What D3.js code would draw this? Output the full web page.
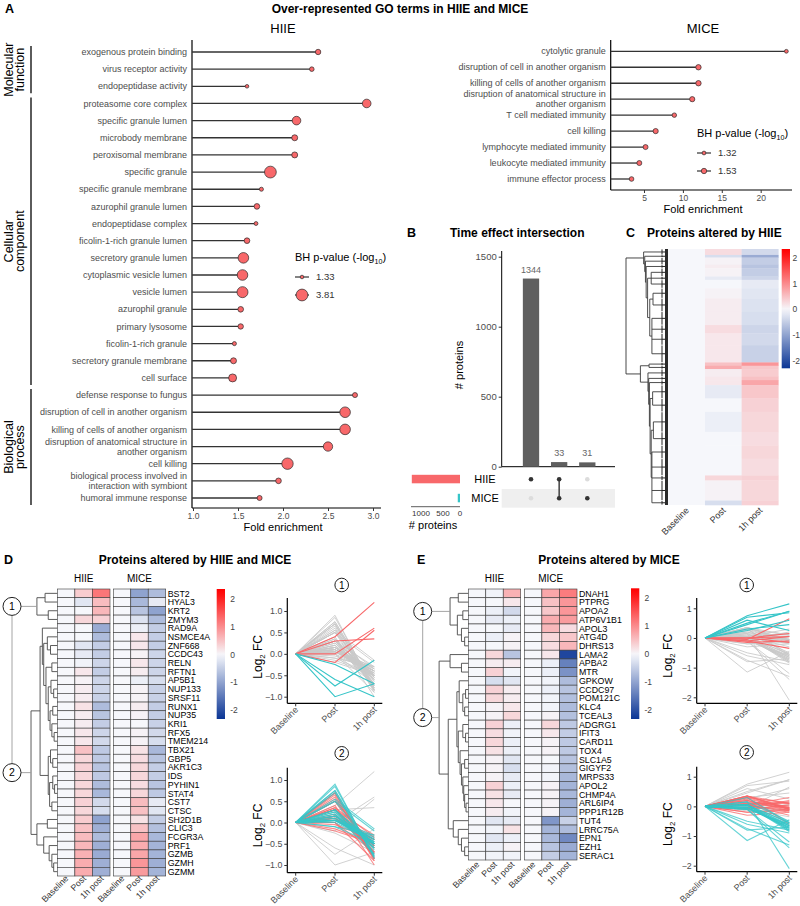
<!DOCTYPE html>
<html><head><meta charset="utf-8">
<script src="https://cdn.jsdelivr.net/npm/d3@7"></script>
<style>body{margin:0;background:#fff} svg{font-family:"Liberation Sans",Arial,Helvetica,sans-serif}</style>
</head><body><svg id="c" width="800" height="906"></svg>
<script>
// ================= DATA =================
const timeLabels = ["Baseline","Post","1h post"];

// Panel A – HIIE
const hiieTerms = ["exogenous protein binding","virus receptor activity","endopeptidase activity","proteasome core complex","specific granule lumen","microbody membrane","peroxisomal membrane","specific granule","specific granule membrane","azurophil granule lumen","endopeptidase complex","ficolin-1-rich granule lumen","secretory granule lumen","cytoplasmic vesicle lumen","vesicle lumen","azurophil granule","primary lysosome","ficolin-1-rich granule","secretory granule membrane","cell surface","defense response to fungus","disruption of cell in another organism","killing of cells of another organism","disruption of anatomical structure in\nanother organism","cell killing","biological process involved in\ninteraction with symbiont","humoral immune response"];
const hiieFold = [2.39,2.32,1.60,2.93,2.15,2.13,2.13,1.86,1.76,1.71,1.70,1.60,1.56,1.55,1.55,1.53,1.53,1.46,1.45,1.44,2.80,2.69,2.69,2.50,2.05,1.95,1.74];
const hiieP = [1.65,1.49,1.33,2.53,2.53,1.78,1.78,3.81,1.40,1.70,1.37,1.70,3.28,3.28,3.45,1.70,1.65,1.40,1.78,2.33,1.57,3.28,3.28,2.79,3.63,1.70,1.57];
const hiieGroupNames = [["Molecular","function"],["Cellular","component"],["Biological","process"]];
const hiieGroupFirst = [0,3,20];
const hiieGroupLast = [2,19,26];
const hiieSizeLegend = [1.33,3.81];
const hiieTicks = [1.0,1.5,2.0,2.5,3.0];

// Panel A – MICE
const miceTerms = ["cytolytic granule","disruption of cell in another organism","killing of cells of another organism","disruption of anatomical structure in\nanother organism","T cell mediated immunity","cell killing","lymphocyte mediated immunity","leukocyte mediated immunity","immune effector process"];
const miceFold = [23.3,12.0,12.0,11.2,8.9,6.5,5.2,4.4,3.4];
const miceP = [1.32,1.53,1.53,1.50,1.40,1.50,1.47,1.47,1.42];
const miceSizeLegend = [1.32,1.53];
const miceTicks = [5,10,15,20];

// Panel B – upset
const upsetSets = ["HIIE","MICE"];
const upsetCounts = [1344,33,31];
const upsetHiie = [1,1,0];
const upsetMice = [0,1,1];
const setSizes = [1377,64];
const upsetTicks = [0,500,1000,1500];
const setSizeTicks = [1000,500,0];

// Panel C – row bands of the HIIE heatmap (rows per band, Post value, 1h post value)
const cBandRows = [32,14,39,18,45,18,45,54,72,72,45,63,93,18,18,41,18,27,72,72,108,72,72,90,27,108,24];
const cBandPost = [0.25,-0.30,0.05,0.10,0.05,-0.15,0.00,0.05,0.10,0.10,0.25,0.15,0.15,0.50,0.70,0.10,0.15,0.15,-0.15,0.00,-0.10,0.00,0.00,0.00,0.30,0.05,-0.30];
const cBandH1 = [-0.35,-0.90,-0.50,-0.60,-0.50,-0.40,-0.15,-0.20,-0.25,-0.30,-0.40,-0.35,-0.45,0.90,0.45,0.40,0.50,0.75,0.45,0.35,0.30,0.25,0.30,0.25,0.35,0.30,0.35];
const cTree = {h:1,c:[
  {h:0.51,c:[0,{h:0.48,c:[1,{h:0.46,c:[2,{h:0.44,c:[3,{h:0.40,c:[{h:0.30,c:[4,5,6]},{h:0.34,c:[{h:0.25,c:[7,8]},{h:0.28,c:[9,10,11,12]}]}]}]}]}]}]},
  {h:0.60,c:[{h:0.36,c:[13,14]},{h:0.39,c:[15,{h:0.37,c:[16,{h:0.35,c:[17,{h:0.33,c:[{h:0.26,c:[18,19]},{h:0.30,c:[{h:0.24,c:[20,21]},{h:0.28,c:[22,23,24,25,26]}]}]}]}]}]}]}
]};

// Panel D
const dGenes = ["BST2","HYAL3","KRT2","ZMYM3","RAD9A","NSMCE4A","ZNF668","CCDC43","RELN","RFTN1","AP5B1","NUP133","SRSF11","RUNX1","NUP35","KRI1","RFX5","TMEM214","TBX21","GBP5","AKR1C3","IDS","PYHIN1","STAT4","CST7","CTSC","SH2D1B","CLIC3","FCGR3A","PRF1","GZMB","GZMH","GZMM"];
const dCluster = [1,1,1,1,2,2,2,2,2,2,2,2,2,2,2,2,2,2,2,2,2,2,2,2,2,2,2,2,2,2,2,2,2];
const dHiiePost = [0.40,-0.20,0.00,0.30,0.00,0.00,-0.20,-0.15,-0.05,0.15,0.05,0.10,0.10,0.20,0.10,0.10,0.15,0.15,0.50,0.30,0.35,0.30,0.30,0.30,0.35,0.30,0.40,0.50,0.55,0.60,0.65,0.70,0.70];
const dHiie1h = [1.20,0.55,0.60,0.35,-0.90,-0.70,-0.50,-0.50,-0.40,-0.50,-0.40,-0.40,-0.45,-0.70,-0.60,-0.50,-0.40,-0.35,-0.55,-0.55,-0.60,-0.55,-0.70,-0.75,-0.35,-0.30,-1.00,-0.85,-0.70,-0.85,-0.90,-0.85,-0.85];
const dMicePost = [-1.00,-0.75,-0.60,-0.25,-0.10,0.15,0.15,0.05,0.15,0.10,-0.10,0.05,0.05,0.10,0.05,0.00,0.05,0.05,0.20,0.25,0.30,0.30,0.25,0.30,0.55,0.50,0.20,0.50,0.75,0.70,0.75,0.90,0.85];
const dMice1h = [-0.70,-0.15,-1.00,-0.70,-0.50,-0.50,-0.50,-0.40,-0.40,-0.40,-0.30,-0.45,-0.45,-0.50,-0.50,-0.45,-0.35,-0.30,-0.75,-0.60,-0.50,-0.50,-0.60,-0.55,-0.15,-0.20,-0.50,-0.65,-0.75,-0.80,-0.80,-0.85,-0.80];
const dTree = {h:1,c:[
  {h:0.45,c:[{h:0.27,c:[0,1]},{h:0.20,c:[2,3]}]},
  {h:0.58,c:[
    {h:0.38,c:[
      {h:0.33,c:[4,{h:0.30,c:[{h:0.22,c:[5,{h:0.15,c:[6,7]}]},{h:0.25,c:[{h:0.12,c:[8,9]},{h:0.20,c:[{h:0.14,c:[10,{h:0.08,c:[11,12]}]},{h:0.16,c:[{h:0.10,c:[13,14]},{h:0.12,c:[15,{h:0.07,c:[16,17]}]}]}]}]}]}]},
      {h:0.20,c:[{h:0.15,c:[18,{h:0.10,c:[19,20]}]},{h:0.17,c:[{h:0.10,c:[21,{h:0.06,c:[22,23]}]},{h:0.12,c:[24,25]}]}]}
    ]},
    {h:0.45,c:[{h:0.22,c:[26,27]},{h:0.30,c:[28,{h:0.18,c:[29,{h:0.12,c:[30,{h:0.08,c:[31,32]}]}]}]}]}
  ]}
]};

// Panel E
const eGenes = ["DNAH1","PTPRG","APOA2","ATP6V1B1","APOL3","ATG4D","DHRS13","LAMA2","APBA2","MTR","GPKOW","CCDC97","POM121C","KLC4","TCEAL3","ADGRG1","IFIT3","CARD11","TOX4","SLC1A5","GIGYF2","MRPS33","APOL2","CHMP4A","ARL6IP4","PPP1R12B","TUT4","LRRC75A","EPN1","EZH1","SERAC1"];
const eCluster = [1,1,1,1,1,1,1,2,2,2,2,2,2,2,2,2,2,2,2,2,2,2,2,2,2,2,2,2,2,2,2];
const eHiiePost = [-0.05,0.00,-0.10,-0.15,0.00,-0.10,0.00,0.30,0.10,0.35,-0.30,0.35,0.30,0.05,0.05,0.35,0.25,0.30,0.20,0.05,0.05,0.05,0.35,0.20,0.15,0.10,-0.20,-0.05,-0.20,-0.10,-0.05];
const eHiie1h = [0.65,0.15,-0.35,-0.10,-0.15,0.05,0.05,-0.60,0.10,-0.05,-0.20,0.10,0.10,0.15,0.30,-0.10,-0.05,-0.10,-0.10,-0.20,-0.30,-0.15,-0.10,-0.15,0.00,-0.05,-0.15,0.20,-0.10,0.05,-0.05];
const eMicePost = [0.75,0.50,0.45,0.70,0.60,0.30,0.25,0.15,-0.10,-0.10,-0.05,-0.10,-0.05,-0.05,0.05,0.30,0.15,0.05,0.05,0.00,-0.05,-0.05,0.05,0.05,0.05,0.05,-1.15,-0.80,-0.75,-0.60,-0.50];
const eMice1h = [1.15,0.90,0.90,0.85,0.25,0.45,0.60,-2.10,-1.40,-1.20,-0.70,-0.60,-0.65,-0.70,-0.65,-0.55,-0.50,-0.55,-0.55,-0.60,-0.65,-0.75,-0.80,-0.75,-0.85,-0.80,-0.45,-0.70,-1.30,-0.90,-0.80];
const eTree = {h:1,c:[
  {h:0.40,c:[{h:0.22,c:[0,1]},{h:0.24,c:[{h:0.12,c:[2,3]},{h:0.15,c:[4,{h:0.08,c:[5,6]}]}]}]},
  {h:0.64,c:[
    {h:0.40,c:[7,{h:0.15,c:[8,9]}]},
    {h:0.44,c:[
      {h:0.25,c:[{h:0.20,c:[10,{h:0.12,c:[{h:0.06,c:[11,12]},{h:0.08,c:[13,14]}]}]},{h:0.22,c:[{h:0.12,c:[15,{h:0.06,c:[16,17]}]},{h:0.18,c:[18,{h:0.15,c:[{h:0.08,c:[19,20]},{h:0.12,c:[21,{h:0.10,c:[22,{h:0.08,c:[23,{h:0.05,c:[24,25]}]}]}]}]}]}]}]},
      {h:0.33,c:[26,{h:0.22,c:[27,{h:0.15,c:[28,{h:0.08,c:[29,30]}]}]}]}
    ]}
  ]}
]};
const colorbarTicks = [2,1,0,-1,-2];

// ================= STYLE =================
const RED = "#f8686a", TEAL = "#36c5c8", GREYL = "#c9c9c9", TXT = "#4d4d4d";
const heatColor = d3.scaleLinear().domain([-2.3,0,2.3]).range(["#0a3595","#f6f7fb","#ff0000"]).clamp(true);

const svg = d3.select("#c");
function text(g, x, y, s, o = {}) {
  const t = g.append("text").attr("x", x).attr("y", y).text(s)
    .attr("font-size", o.size || 9).attr("fill", o.fill || "#000")
    .attr("text-anchor", o.anchor || "start");
  if (o.bold) t.attr("font-weight", "bold");
  if (o.dy) t.attr("dy", o.dy);
  if (o.dx) t.attr("dx", o.dx);
  if (o.rot !== undefined) t.attr("transform", `rotate(${o.rot},${x},${y})`);
  return t;
}
function line(g, x1, y1, x2, y2, col = "#000", w = 1) {
  return g.append("line").attr("x1", x1).attr("y1", y1).attr("x2", x2).attr("y2", y2)
    .attr("stroke", col).attr("stroke-width", w);
}
function subLabel(g, x, y, main, sub, after, o = {}) {
  const t = g.append("text").attr("x", x).attr("y", y).attr("font-size", o.size || 11)
    .attr("fill", o.fill || "#000").attr("text-anchor", o.anchor || "start");
  if (o.rot !== undefined) t.attr("transform", `rotate(${o.rot},${x},${y})`);
  t.append("tspan").text(main);
  t.append("tspan").text(sub).attr("font-size", (o.size || 11) * 0.65).attr("dy", (o.size || 11) * 0.25);
  t.append("tspan").text(after).attr("dy", -(o.size || 11) * 0.25);
  return t;
}

// ================= TITLES =================
text(svg, 5, 13, "A", {size: 12.5, bold: true});
text(svg, 400, 13, "Over-represented GO terms in HIIE and MICE", {size: 12, bold: true, anchor: "middle"});
text(svg, 407, 237, "B", {size: 12.5, bold: true});
text(svg, 450, 237, "Time effect intersection", {size: 12, bold: true});
text(svg, 626, 237, "C", {size: 12.5, bold: true});
text(svg, 647, 237, "Proteins altered by HIIE", {size: 12, bold: true});
text(svg, 4, 564, "D", {size: 12.5, bold: true});
text(svg, 195, 564, "Proteins altered by HIIE and MICE", {size: 12, bold: true, anchor: "middle"});
text(svg, 417, 564, "E", {size: 12.5, bold: true});
text(svg, 609, 564, "Proteins altered by MICE", {size: 12, bold: true, anchor: "middle"});

// ================= LOLLIPOP helper =================
function lollipop(cfg) {
  const g = svg.append("g");
  const x = d3.scaleLinear().domain(cfg.domain).range(cfg.xrange);
  const y = d3.scalePoint().domain(cfg.terms).range(cfg.yrange);
  const rA = d3.scaleLinear().domain(cfg.pdom).range([cfg.rr[0] ** 2, cfg.rr[1] ** 2]);
  const r = p => Math.sqrt(Math.max(0.5, rA(p)));
  text(g, cfg.titleX, 33, cfg.title, {size: 13, anchor: "middle"});
  line(g, cfg.axisX, cfg.axisTop, cfg.axisX, cfg.axisY, "#000", 1.2);
  line(g, cfg.axisX, cfg.axisY, cfg.axisRight, cfg.axisY, "#000", 1.2);
  const ax = g.append("g").attr("transform", `translate(0,${cfg.axisY})`)
    .call(d3.axisBottom(x).tickValues(cfg.ticks).tickFormat(cfg.fmt).tickSize(3).tickPadding(2));
  ax.select(".domain").remove();
  ax.selectAll(".tick line").attr("stroke", "#333");
  ax.selectAll(".tick text").attr("fill", TXT).attr("font-size", 8.5).attr("font-family", null);
  text(g, cfg.labX, cfg.axisY + 23, "Fold enrichment", {size: 11, anchor: "middle"});
  cfg.terms.forEach((t, i) => {
    const yy = y(t);
    line(g, cfg.axisX, yy, x(cfg.fold[i]), yy, "#333", 1.3);
    const lines = t.split("\n");
    lines.forEach((s, k) => {
      const off = lines.length === 1 ? 0 : (k === 0 ? -5 : 5);
      text(g, cfg.axisX - 5, yy + off, s, {size: 9, fill: TXT, anchor: "end", dy: "0.35em"});
    });
  });
  cfg.terms.forEach((t, i) => {
    g.append("circle").attr("cx", x(cfg.fold[i])).attr("cy", y(t)).attr("r", r(cfg.p[i]))
      .attr("fill", RED).attr("stroke", "#2b2b2b").attr("stroke-width", 0.7);
  });
  const L = cfg.legend;
  subLabel(g, L.x, L.y, "BH p-value (-log", "10", ")", {size: 11});
  cfg.sizeLegend.forEach((p, i) => {
    const yy = L.y + 16 + i * L.step;
    line(g, L.x, yy, L.x + 14, yy, "#333", 1.2);
    g.append("circle").attr("cx", L.x + 7).attr("cy", yy).attr("r", r(p))
      .attr("fill", RED).attr("stroke", "#2b2b2b").attr("stroke-width", 0.7);
    text(g, L.x + 21, yy, p.toFixed(2), {size: 9.5, fill: "#333", dy: "0.35em"});
  });
  return {g, x, y};
}

const A1 = lollipop({terms: hiieTerms, fold: hiieFold, p: hiieP, domain: [1, 3], xrange: [193, 373],
  yrange: [52, 498], pdom: [1.33, 3.81], rr: [1.8, 5.9], title: "HIIE", titleX: 283,
  axisX: 192, axisTop: 40, axisY: 508, axisRight: 381, ticks: hiieTicks, fmt: d3.format(".1f"), labX: 283,
  legend: {x: 295, y: 261, step: 18}, sizeLegend: hiieSizeLegend});
hiieGroupNames.forEach((nm, i) => {
  const y0 = A1.y(hiieTerms[hiieGroupFirst[i]]) - 6, y1 = A1.y(hiieTerms[hiieGroupLast[i]]) + 7;
  line(A1.g, 31, y0, 31, y1, "#333", 1.6);
  const cy = (y0 + y1) / 2;
  const t = A1.g.append("text").attr("transform", `translate(0,${cy}) rotate(-90)`)
    .attr("text-anchor", "middle").attr("font-size", 12.5);
  t.append("tspan").attr("x", 0).attr("y", 13).text(nm[0]);
  t.append("tspan").attr("x", 0).attr("y", 23.5).text(nm[1]);
});

lollipop({terms: miceTerms, fold: miceFold, p: miceP, domain: [0, 24], xrange: [605.1, 791.8],
  yrange: [51.3, 179], pdom: [1.32, 1.53], rr: [1.9, 2.7], title: "MICE", titleX: 703,
  axisX: 610.7, axisTop: 40, axisY: 190, axisRight: 792, ticks: miceTicks, fmt: d3.format("d"), labX: 703,
  legend: {x: 697, y: 137, step: 18}, sizeLegend: miceSizeLegend});

// ================= PANEL B =================
(function () {
  const g = svg.append("g");
  const y = d3.scaleLinear().domain([0, 1500]).range([466.7, 256.7]);
  const x = d3.scalePoint().domain(d3.range(upsetCounts.length)).range([531, 587.3]);
  const bw = 16.3;
  const ax = g.append("g").attr("transform", "translate(501.7,0)")
    .call(d3.axisLeft(y).tickValues(upsetTicks).tickFormat(d3.format("d")).tickSize(3).tickPadding(2));
  ax.select(".domain").remove();
  ax.selectAll(".tick line").attr("stroke", "#333");
  ax.selectAll(".tick text").attr("fill", TXT).attr("font-size", 9.5).attr("font-family", null);
  line(g, 501.7, 251, 501.7, 466.7, "#000", 1);
  line(g, 501.7, 466.7, 615, 466.7, "#000", 1);
  text(g, 463, 365, "# proteins", {size: 11, anchor: "middle", rot: -90});
  upsetCounts.forEach((c, i) => {
    g.append("rect").attr("x", x(i) - bw / 2).attr("y", y(c)).attr("width", bw).attr("height", y(0) - y(c)).attr("fill", "#5f5f5f");
    text(g, x(i), y(c) - 6, c, {size: 9, fill: "#666", anchor: "middle"});
  });
  const ym = d3.scalePoint().domain(upsetSets).range([479.3, 498.3]);
  g.append("rect").attr("x", 501.7).attr("y", 489).attr("width", 113.3).attr("height", 18.7).attr("fill", "#efefef");
  upsetSets.forEach(s => text(g, 485, ym(s), s, {size: 11, anchor: "middle", dy: "0.35em"}));
  upsetCounts.forEach((c, i) => {
    const m = [upsetHiie[i], upsetMice[i]];
    if (m[0] && m[1]) line(g, x(i), ym("HIIE"), x(i), ym("MICE"), "#333", 1.4);
    m.forEach((v, k) => g.append("circle").attr("cx", x(i)).attr("cy", ym(upsetSets[k])).attr("r", 2.3)
      .attr("fill", v ? "#333" : "#dcdcdc"));
  });
  const xs = d3.scaleLinear().domain([0, 1000]).range([460, 425]);
  const setCols = [RED, TEAL];
  setSizes.forEach((s, k) => {
    g.append("rect").attr("x", xs(s)).attr("y", ym(upsetSets[k]) - 4.5).attr("width", xs(0) - xs(s)).attr("height", 8.5).attr("fill", setCols[k]);
  });
  line(g, 411, 506.7, 460, 506.7, "#333", 0.8);
  setSizeTicks.forEach(t => text(g, xs(t), 516, t, {size: 8, fill: "#333", anchor: "middle", dx: t === 1000 ? -4 : (t === 500 ? 0.5 : 0)}));
  text(g, 433, 528.5, "# proteins", {size: 11, anchor: "middle"});
})();

// ================= DENDROGRAM helper =================
function dendro(g, node, yLeaf, xH, depth, colTop, colIn, sw) {
  if (typeof node === "number") return {y: yLeaf(node), x: xH(0)};
  const kids = node.c.map(k => dendro(g, k, yLeaf, xH, depth + 1, colTop, colIn, sw));
  const x = xH(node.h), col = depth === 0 ? colTop : colIn;
  const ys = kids.map(k => k.y);
  line(g, x, d3.min(ys), x, d3.max(ys), col, sw);
  kids.forEach(k => line(g, x, k.y, k.x, k.y, col, sw));
  node._y = (d3.min(ys) + d3.max(ys)) / 2;
  return {y: node._y, x};
}
function colorbar(g, x0, y0, w, h, dom, lx) {
  const id = "cb" + Math.round(x0);
  const grad = svg.append("defs").append("linearGradient").attr("id", id)
    .attr("x1", 0).attr("y1", 1).attr("x2", 0).attr("y2", 0);
  const ys = d3.scaleLinear().domain(dom).range([y0 + h, y0]);
  d3.range(0, 1.0001, 0.05).forEach(f => {
    const v = dom[0] + f * (dom[1] - dom[0]);
    grad.append("stop").attr("offset", f).attr("stop-color", heatColor(v));
  });
  g.append("rect").attr("x", x0).attr("y", y0).attr("width", w).attr("height", h).attr("fill", `url(#${id})`);
  colorbarTicks.forEach(t => text(g, lx, ys(t), t, {size: 8.5, fill: "#444", dy: "0.35em"}));
}

// ================= PANEL C =================
(function () {
  const g = svg.append("g");
  const total = d3.sum(cBandRows);
  const y = d3.scaleLinear().domain([0, total]).range([249, 505]);
  const x = d3.scaleBand().domain(timeLabels).range([668.3, 778.3]);
  const starts = cBandRows.map((n, i) => d3.sum(cBandRows.slice(0, i)));
  g.append("rect").attr("x", x("Baseline")).attr("y", y(0)).attr("width", x.bandwidth()).attr("height", y(total) - y(0)).attr("fill", heatColor(0));
  cBandRows.forEach((n, i) => {
    [["Post", cBandPost[i]], ["1h post", cBandH1[i]]].forEach(([c, v]) => {
      g.append("rect").attr("x", x(c)).attr("y", y(starts[i])).attr("width", x.bandwidth() + 0.3)
        .attr("height", y(starts[i] + n) - y(starts[i]) + 0.3).attr("fill", heatColor(v));
    });
  });
  timeLabels.forEach(c => text(g, x(c) + x.bandwidth() / 2 + 3, 511, c, {size: 9, fill: "#333", anchor: "end", rot: -45}));
  const xH = d3.scaleLinear().domain([0, 1]).range([662, 626]);
  dendro(g, cTree, i => y(starts[i] + cBandRows[i] / 2), xH, 0, "#333", "#3a3a3a", 0.9);
  cBandRows.forEach((n, i) => {
    line(g, 662, y(starts[i]) + 0.4, 662, y(starts[i] + n) - 0.4, "#222", 1);
    line(g, 662, y(starts[i] + n / 2), 665, y(starts[i] + n / 2), "#222", 1);
  });
  g.append("rect").attr("x", 665).attr("y", 249).attr("width", 3).attr("height", 256).attr("fill", "#2a2a2a");
  colorbar(g, 781.7, 249, 8.3, 119.3, [-2.3, 2.35], 792.5);
})();

// ================= HEATMAP (D / E) helper =================
function clusterHeat(cfg) {
  const g = svg.append("g");
  const y = d3.scaleBand().domain(cfg.genes).range(cfg.yr);
  const xH = d3.scaleBand().domain(timeLabels).range(cfg.hx);
  const xM = d3.scaleBand().domain(timeLabels).range(cfg.mx);
  text(g, (cfg.hx[0] + cfg.hx[1]) / 2, cfg.yr[0] - 7, "HIIE", {size: 10, anchor: "middle"});
  text(g, (cfg.mx[0] + cfg.mx[1]) / 2, cfg.yr[0] - 7, "MICE", {size: 10, anchor: "middle"});
  cfg.genes.forEach((gn, i) => {
    const vals = [[xH, [0, cfg.hp[i], cfg.h1[i]]], [xM, [0, cfg.mp[i], cfg.m1[i]]]];
    vals.forEach(([sx, vs]) => timeLabels.forEach((t, k) => {
      g.append("rect").attr("x", sx(t)).attr("y", y(gn)).attr("width", sx.bandwidth()).attr("height", y.bandwidth())
        .attr("fill", heatColor(vs[k])).attr("stroke", "#3a3a3a").attr("stroke-width", 0.6);
    }));
    text(g, cfg.mx[1] + 2, y(gn) + y.bandwidth() / 2, gn, {size: 8.8, dy: "0.36em"});
  });
  [xH, xM].forEach(sx => timeLabels.forEach(t =>
    text(g, sx(t) + sx.bandwidth() / 2 + 3, cfg.yr[1] + cfg.labGap, t, {size: 8.8, fill: "#333", anchor: "end", rot: -45})));
  const xD = d3.scaleLinear().domain([0, 1]).range([cfg.hx[0], cfg.rootX]);
  dendro(g, cfg.tree, i => y(cfg.genes[i]) + y.bandwidth() / 2, xD, 0, "#9a9a9a", "#4a4a4a", 0.9);
  cfg.tree.c.forEach((cl, k) => {
    g.append("circle").attr("cx", cfg.rootX).attr("cy", cl._y).attr("r", 9).attr("fill", "#fff").attr("stroke", "#222").attr("stroke-width", 1);
    text(g, cfg.rootX, cl._y, k + 1, {size: 10.5, anchor: "middle", dy: "0.36em"});
  });
  colorbar(g, cfg.cb[0], cfg.cb[1], 8.3, cfg.cb[2], [-2.31, 2.35], cfg.cb[0] + 13.5);
  cfg.charts.forEach((ch, ci) => {
    const cl = ci + 1;
    const lg = svg.append("g");
    const xs = d3.scalePoint().domain(timeLabels).range(cfg.lx);
    const ys = d3.scaleLinear().domain(ch.dom).range(ch.yr);
    const lineGen = d3.line().x((d, k) => xs(timeLabels[k])).y(d => ys(d));
    const grey = [], reds = [], teals = [];
    cfg.genes.forEach((gn, i) => {
      const h = [0, cfg.hp[i], cfg.h1[i]], m = [0, cfg.mp[i], cfg.m1[i]];
      if (cfg.cluster[i] === cl) { reds.push(h); teals.push(m); } else { grey.push(h, m); }
    });
    grey.forEach(s => lg.append("path").attr("d", lineGen(s)).attr("fill", "none").attr("stroke", GREYL).attr("stroke-width", 1).attr("opacity", 0.85));
    reds.forEach(s => lg.append("path").attr("d", lineGen(s)).attr("fill", "none").attr("stroke", RED).attr("stroke-width", 1.1).attr("opacity", ch.alpha));
    teals.forEach(s => lg.append("path").attr("d", lineGen(s)).attr("fill", "none").attr("stroke", TEAL).attr("stroke-width", 1.1).attr("opacity", ch.alpha));
    const ax0 = cfg.axisX, yb = ch.bottom;
    line(lg, ax0, ch.top, ax0, yb, "#000", 1.2);
    line(lg, ax0, yb, cfg.lx[1] + 8, yb, "#000", 1.2);
    const ay = lg.append("g").attr("transform", `translate(${ax0},0)`)
      .call(d3.axisLeft(ys).tickValues(ch.ticks).tickFormat(ch.fmt).tickSize(3).tickPadding(2));
    ay.select(".domain").remove();
    ay.selectAll(".tick line").attr("stroke", "#333");
    ay.selectAll(".tick text").attr("fill", TXT).attr("font-size", 8.8).attr("font-family", null);
    timeLabels.forEach(t => {
      line(lg, xs(t), yb, xs(t), yb + 3, "#333", 1);
      text(lg, xs(t) + 3, yb + 7, t, {size: 9, fill: TXT, anchor: "end", rot: -45});
    });
    subLabel(lg, cfg.logX, (ch.yr[0] + ch.yr[1]) / 2 + 3, "Log", "2", " FC", {size: 12, anchor: "middle", rot: -90});
    lg.append("circle").attr("cx", cfg.circX).attr("cy", ch.circY).attr("r", 6.8).attr("fill", "#fff").attr("stroke", "#222").attr("stroke-width", 1);
    text(lg, cfg.circX, ch.circY, cl, {size: 10, anchor: "middle", dy: "0.36em"});
  });
}

clusterHeat({genes: dGenes, cluster: dCluster, hp: dHiiePost, h1: dHiie1h, mp: dMicePost, m1: dMice1h,
  tree: dTree, yr: [589, 876], hx: [57.3, 110], mx: [113.3, 165.7], rootX: 12, labGap: 3,
  cb: [216.7, 589, 130], lx: [295.7, 374.3], axisX: 287.3, logX: 262, circX: 341.7,
  charts: [
    {dom: [-1, 1], yr: [696.7, 611], top: 598, bottom: 703.3, ticks: [-1, -0.5, 0, 0.5, 1], fmt: d3.format(".1f"), circY: 585, alpha: 1},
    {dom: [-1, 1], yr: [865, 780], top: 767.7, bottom: 872.7, ticks: [-1, -0.5, 0, 0.5, 1], fmt: d3.format(".1f"), circY: 753.3, alpha: 0.75}
  ]});

clusterHeat({genes: eGenes, cluster: eCluster, hp: eHiiePost, h1: eHiie1h, mp: eMicePost, m1: eMice1h,
  tree: eTree, yr: [589, 860], hx: [468.3, 520.7], mx: [524.3, 577], rootX: 422.7, labGap: 5,
  cb: [631, 588.3, 130.7], lx: [705, 789.3], axisX: 696.7, logX: 672, circX: 746.7,
  charts: [
    {dom: [-2, 1], yr: [697.3, 608.3], top: 598, bottom: 703.3, ticks: [-2, -1, 0, 1], fmt: d3.format("d"), circY: 585, alpha: 1},
    {dom: [-2, 1], yr: [865.7, 776.7], top: 766.7, bottom: 871.7, ticks: [-2, -1, 0, 1], fmt: d3.format("d"), circY: 752.3, alpha: 0.75}
  ]});
</script>
</body></html>
